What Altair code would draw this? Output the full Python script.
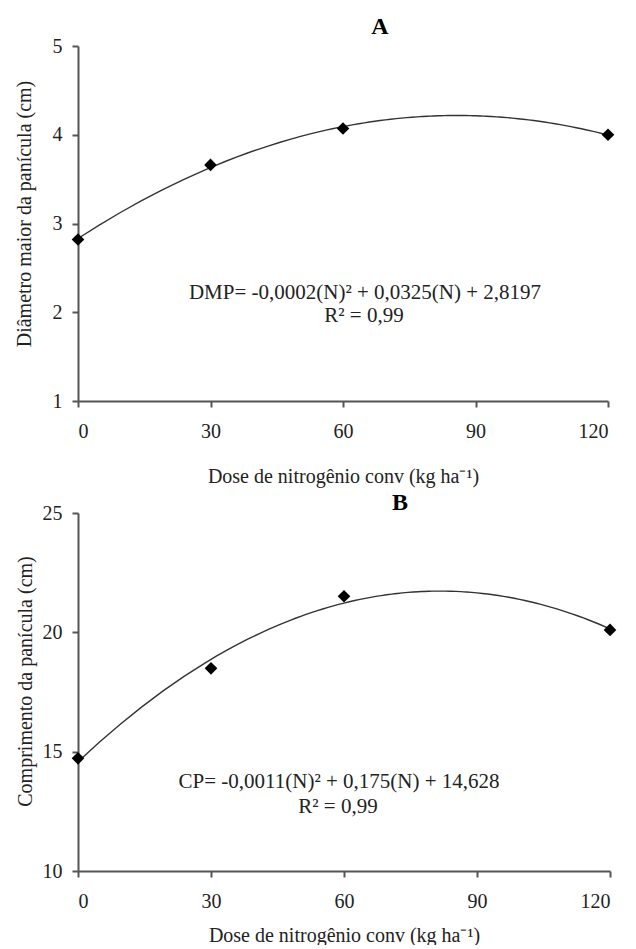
import altair as alt
import pandas as pd

# ---- data ----
dose = [0, 30, 60, 120]
dmp = [2.82, 3.66, 4.07, 4.00]
cp = [14.72, 18.49, 21.51, 20.10]
x_ticks = [0, 30, 60, 90, 120]
ya_ticks = [1, 2, 3, 4, 5]
yb_ticks = [10, 15, 20, 25]
eq_a = ["DMP= -0,0002(N)² + 0,0325(N) + 2,8197", "R² = 0,99"]
eq_b = ["CP= -0,0011(N)² + 0,175(N) + 14,628", "R² = 0,99"]
x_title = "Dose de nitrogênio conv (kg ha⁻¹)"
ya_title = "Diâmetro maior da panícula (cm)"
yb_title = "Comprimento da panícula (cm)"

FONT = "Liberation Serif"


def panel(values, ydomain, yticks, ytitle, title, eq, w, h, eq_pos,
          title_dx, title_offset, x_title_pad, ytitle_shift, y_title_pad):
    df = pd.DataFrame({"dose": dose, "v": values})
    xenc = alt.X("dose:Q", scale=alt.Scale(domain=[0, 120], nice=False, zero=False),
                 axis=alt.Axis(values=x_ticks, title=x_title, titlePadding=x_title_pad,
                               format="d", labelPadding=14))
    yenc = alt.Y("v:Q", scale=alt.Scale(domain=ydomain, nice=False, zero=False),
                 axis=alt.Axis(values=yticks, title=ytitle, titleY=h / 2 - ytitle_shift,
                               format="d", labelPadding=10, titlePadding=y_title_pad))
    base = alt.Chart(df)
    curve = base.transform_regression(
        "dose", "v", method="poly", order=2, extent=[0, 120]
    ).mark_line(color="#333333", strokeWidth=1.4).encode(x=xenc, y=yenc)
    pts = base.mark_point(shape="diamond", filled=True, size=160, color="black",
                          opacity=1).encode(x="dose:Q", y="v:Q")
    texts = []
    for line, (px, py) in zip(eq, eq_pos):
        texts.append(
            alt.Chart(pd.DataFrame({"t": [line]})).mark_text(
                font=FONT, fontSize=21, color="#222222", align="center", baseline="middle"
            ).encode(text="t:N", x=alt.value(px), y=alt.value(py))
        )
    return alt.layer(curve, pts, *texts).properties(
        width=w, height=h,
        title=alt.TitleParams(title, font=FONT, fontSize=24, fontWeight="bold",
                              color="black", anchor="middle", dx=title_dx,
                              offset=title_offset),
    )


a = panel(dmp, [1, 5], ya_ticks, ya_title, "A", eq_a, 530, 355,
          [(287, 247), (286, 270)], 37, -3, 25, 10, 18)
b = panel(cp, [10, 25], yb_ticks, yb_title, "B", eq_b, 532, 358,
          [(261, 269), (260, 294)], 56, -12, 14, 11, 7)

chart = alt.vconcat(
    a, b, spacing=5, background="white",
    padding={"left": 6, "top": 7, "right": 0, "bottom": 0},
).configure_view(stroke=None).configure_axis(
    grid=False,
    domainColor="#555555", domainWidth=2,
    tickColor="#555555", tickWidth=2, tickSize=6,
    labelFont=FONT, labelFontSize=20, labelColor="#222222",
    titleFont=FONT, titleFontSize=20, titleColor="#222222", titleFontWeight="normal",
)

chart.save("out.html", embed_options={"renderer": "svg", "actions": False})
